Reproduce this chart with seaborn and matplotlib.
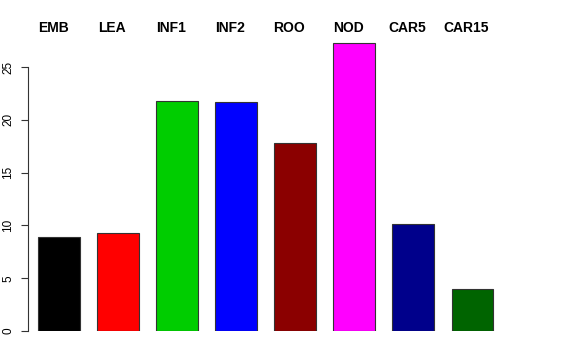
import matplotlib
matplotlib.use('agg')
import matplotlib.pyplot as plt
import seaborn as sns

categories = ['EMB', 'LEA', 'INF1', 'INF2', 'ROO', 'NOD', 'CAR5', 'CAR15']
values = [8.9, 9.3, 21.8, 21.7, 17.8, 27.3, 10.15, 3.98]
colors = ['#000000', '#FF0000', '#00CD00', '#0000FF', '#8B0000', '#FF00FF', '#00008B', '#006400']

sns.set_style('white')
plt.rcParams['font.family'] = ['Liberation Sans', 'DejaVu Sans']
plt.rcParams['text.color'] = 'black'
plt.rcParams['ytick.color'] = 'black'

fig = plt.figure(figsize=(5.76, 3.6), dpi=100)
ax = fig.add_axes([28 / 576, 29 / 360, 500 / 576, 295.7 / 360])

sns.barplot(x=categories, y=values, hue=categories, palette=colors, width=0.71,
            saturation=1, edgecolor='#333333', linewidth=0.8, legend=False, ax=ax)

ax.set_ylim(0, 28)
ax.set_xlim(-0.525, 7.94)
for s in ['top', 'right', 'bottom']:
    ax.spines[s].set_visible(False)
ax.spines['left'].set_bounds(0, 25)
ax.spines['left'].set_color('#333333')
ax.spines['left'].set_linewidth(0.8)
ax.set_yticks([0, 5, 10, 15, 20, 25])
ax.set_yticklabels(['0', '5', '10', '15', '20', '25'], rotation=90, va='center', fontsize=8.5)
ax.tick_params(axis='y', left=True, length=5, width=0.8, color='#333333', labelcolor='black', pad=5)
ax.set_xticks([])
ax.set_xlabel('')
ax.set_ylabel('')

for i, lab in enumerate(categories):
    ax.text(i - 0.1, 28.7, lab, ha='center', va='center', fontsize=10,
            fontweight='bold', color='black', clip_on=False)

fig.savefig('out.png', dpi=100)
